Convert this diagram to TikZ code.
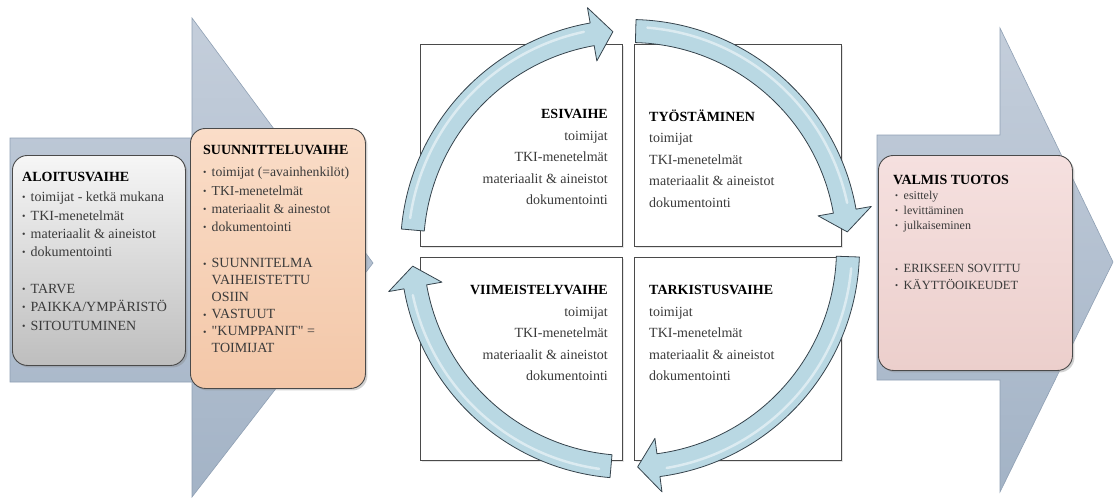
\documentclass[tikz,border=0pt]{standalone}
\usepackage{fontspec}
\setmainfont{Liberation Serif}
\usepackage{graphicx}
\usetikzlibrary{shadows}
\definecolor{chevtop}{HTML}{C4CEDB}
\definecolor{chevmid}{HTML}{B4C2D3}
\definecolor{chevbot}{HTML}{A3B3C6}
\definecolor{chevline}{HTML}{8FA0B4}
\definecolor{alotop}{HTML}{F6F6F6}
\definecolor{alobot}{HTML}{BEBEBE}
\definecolor{suntop}{HTML}{FADDC8}
\definecolor{sunbot}{HTML}{F3C7A8}
\definecolor{valtop}{HTML}{F5E0DF}
\definecolor{valbot}{HTML}{ECCFCC}
\definecolor{boxline}{HTML}{4A4A4A}
\definecolor{arrfill}{HTML}{B9D8E3}
\definecolor{arrline}{HTML}{36434C}
\definecolor{bodytext}{HTML}{3A3A3A}
\newcommand{\bul}{\makebox[8.5pt][l]{\raisebox{0.8pt}{\scalebox{0.7}{\textbullet}}}}
\newcommand{\cycarrow}[3]{%
  \pgfmathsetmacro\hsA{#1-3}\pgfmathsetmacro\hsB{#3+2}%
  \path[cycarr] (#1:229.5) arc[start angle=#1, end angle=#3, radius=229.5]
    -- (#3:245) -- (#2:218) -- (#3:191) -- (#3:206.5)
    arc[start angle=#3, end angle=#1, radius=206.5] -- cycle;
  \draw[white, opacity=0.5, line width=2.5pt, line cap=round] (\hsA:222) arc[start angle=\hsA, end angle=\hsB, radius=222];}
\begin{document}
\begin{tikzpicture}[x=1pt,y=1pt,
  chevron/.style={top color=chevtop, middle color=chevmid, bottom color=chevbot, draw=chevline, line width=0.6pt},
  phasebox/.style={draw=boxline, line width=0.9pt, rounded corners=15pt, anchor=north west, inner sep=0pt,
    drop shadow={opacity=0.35, shadow xshift=2pt, shadow yshift=-2pt}},
  quad/.style={draw=boxline, line width=0.8pt, fill=white, anchor=north west, inner sep=0pt,
    drop shadow={opacity=0.2, shadow xshift=1.2pt, shadow yshift=-1.2pt}},
  cycarr/.style={fill=arrfill, draw=arrline, line width=0.8pt, line join=round},
  txt/.style={inner sep=0pt, text=bodytext, align=left, anchor=north west},
  qtxt/.style={inner sep=0pt, text=bodytext, font=\fontsize{14}{21.5}\selectfont},
  head/.style={text=black}
]
\useasboundingbox (0,0) rectangle (1115,-499);
\fill[white] (0,0) rectangle (1115,-499);

% big chevrons
\path[chevron] (10,-138) -- (192,-138) -- (192,-18) -- (373,-263) -- (192,-497) -- (192,-382) -- (10,-382) -- cycle;
\path[chevron] (877,-135) -- (1000,-135) -- (1000,-28) -- (1113,-262) -- (1000,-492) -- (1000,-380) -- (877,-380) -- cycle;

% phase boxes
\node[phasebox, top color=alotop, bottom color=alobot, minimum width=173pt, minimum height=210pt] (alo) at (12,-155) {};
\node[phasebox, top color=suntop, bottom color=sunbot, minimum width=175pt, minimum height=260pt] (sun) at (190,-128) {};
\node[phasebox, top color=valtop, bottom color=valbot, minimum width=194pt, minimum height=215pt] (val) at (878,-155) {};

% quadrant boxes
\node[quad, minimum width=202pt, minimum height=202pt] (qtl) at (420,-44) {};
\node[quad, minimum width=207pt, minimum height=202pt] (qtr) at (634,-44) {};
\node[quad, minimum width=202pt, minimum height=203pt] (qbl) at (420,-257) {};
\node[quad, minimum width=207pt, minimum height=203pt] (qbr) at (634,-257) {};

% cycle arrows
\begin{scope}[shift={(630,-249)}]
\cycarrow{175}{94.5}{100}
\cycarrow{88.5}{4.5}{10}
\cycarrow{-2}{-88}{-82.5}
\cycarrow{-95}{-175.5}{-170}
\end{scope}

% text: Aloitusvaihe
\node[txt, font=\fontsize{14}{18.3}\selectfont] (alotxt) at (22,-172.5) {%
  {\bfseries\color{black}ALOITUSVAIHE}\\[1.5pt]
  \bul toimijat - ketkä mukana\\
  \bul TKI-menetelmät\\
  \bul materiaalit \& aineistot\\
  \bul dokumentointi\\[18.5pt]
  \bul TARVE\\
  \bul PAIKKA/YMPÄRISTÖ\\
  \bul SITOUTUMINEN};

% Suunnitteluvaihe
\node[txt, font=\fontsize{13.7}{18.3}\selectfont] (suntxt) at (203,-145.5) {%
  {\fontsize{14}{18}\selectfont\bfseries\color{black}SUUNNITTELUVAIHE}\\[3.5pt]
  \bul toimijat (=avainhenkilöt)\\
  \bul TKI-menetelmät\\
  \bul materiaalit \& ainestot\\
  \bul dokumentointi};
\node[txt, font=\fontsize{14}{17}\selectfont] (suntxtb) at (203,-258.5) {%
  \bul SUUNNITELMA\\
  \hspace*{8.5pt}VAIHEISTETTU\\
  \hspace*{8.5pt}OSIIN\\
  \bul VASTUUT\\
  \bul \textquotedbl KUMPPANIT\textquotedbl{} =\\
  \hspace*{8.5pt}TOIMIJAT};

% Valmis tuotos
\node[txt, font=\fontsize{14}{16}\selectfont\bfseries, text=black] (valh) at (893,-175.5) {VALMIS TUOTOS};
\node[txt, font=\fontsize{12}{15.2}\selectfont] (valtxt) at (895,-190.5) {%
  \bul esittely\\
  \bul levittäminen\\
  \bul julkaiseminen};
\node[txt, font=\fontsize{12.5}{16.5}\selectfont] (valtxtb) at (895,-264.5) {%
  \bul ERIKSEEN SOVITTU\\
  \bul KÄYTTÖOIKEUDET};

% quadrant texts
\node[qtxt, align=right, anchor=north east] (esi) at (608,-109.4) {%
  {\bfseries\color{black}ESIVAIHE}\\
  toimijat\\ TKI-menetelmät\\ materiaalit \& aineistot\\ dokumentointi};
\node[qtxt, align=left, anchor=north west] (tyo) at (649,-109.4) {%
  {\bfseries\color{black}TYÖSTÄMINEN}\\
  toimijat\\ TKI-menetelmät\\ materiaalit \& aineistot\\ dokumentointi};
\node[qtxt, align=right, anchor=north east] (vii) at (608,-285.4) {%
  {\bfseries\color{black}VIIMEISTELYVAIHE}\\
  toimijat\\ TKI-menetelmät\\ materiaalit \& aineistot\\ dokumentointi};
\node[qtxt, align=left, anchor=north west] (tar) at (649,-285.4) {%
  {\bfseries\color{black}TARKISTUSVAIHE}\\
  toimijat\\ TKI-menetelmät\\ materiaalit \& aineistot\\ dokumentointi};
\end{tikzpicture}
\end{document}
